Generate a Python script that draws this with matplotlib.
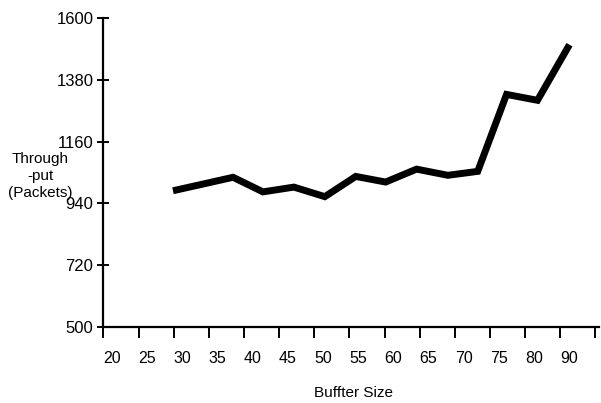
import matplotlib
matplotlib.use("Agg")
import matplotlib.pyplot as plt

plt.rcParams['font.family'] = ['Liberation Sans', 'DejaVu Sans']

# Category tick labels along the x axis
x_labels = ["20", "25", "30", "35", "40", "45", "50", "55", "60", "65", "70", "75", "80", "90"]
# Data points: x given in label-index units (as drawn), y = throughput (packets)
x_pos = [1.73, 2.59, 3.44, 4.29, 5.17, 6.05, 6.93, 7.78, 8.66, 9.55, 10.40, 11.22, 12.10, 13.01]
throughput = [985, 1009, 1033, 981, 998, 964, 1036, 1016, 1062, 1040, 1054, 1328, 1307, 1505]
y_ticks = [500, 720, 940, 1160, 1380, 1600]

fig = plt.figure(figsize=(6.01, 4.03), dpi=100)
ax = fig.add_axes([103/601, 1-327/403, (599-103)/601, (327-18)/403])

ax.plot(x_pos, throughput, color='black', linewidth=5, solid_joinstyle='miter', solid_capstyle='butt')

ax.set_xlim(-0.26, 13.85)
ax.set_ylim(500, 1600)

ax.spines['top'].set_visible(False)
ax.spines['right'].set_visible(False)
ax.spines['left'].set_linewidth(1.6)
ax.spines['bottom'].set_linewidth(1.6)

ax.set_yticks(y_ticks)
ax.set_yticklabels([str(v) for v in y_ticks], fontsize=12)
ax.tick_params(axis='y', direction='inout', length=8, width=1.4, pad=3)

ax.set_xticks(range(len(x_labels)))
ax.set_xticklabels(x_labels, fontsize=11.5)
ax.tick_params(axis='x', which='major', length=0, pad=17)
ax.set_xticks([i - 0.25 for i in range(len(x_labels) + 1)], minor=True)
ax.tick_params(axis='x', which='minor', direction='out', length=8, width=1.4)

fig.text(40/601, 1-176/403, "Through\n-put\n(Packets)", ha='center', va='center',
         multialignment='center', fontsize=11, linespacing=1.25)
fig.text(353/601, 1-393/403, "Buffter Size", ha='center', va='center', fontsize=11)

fig.savefig("out.png", dpi=100)
